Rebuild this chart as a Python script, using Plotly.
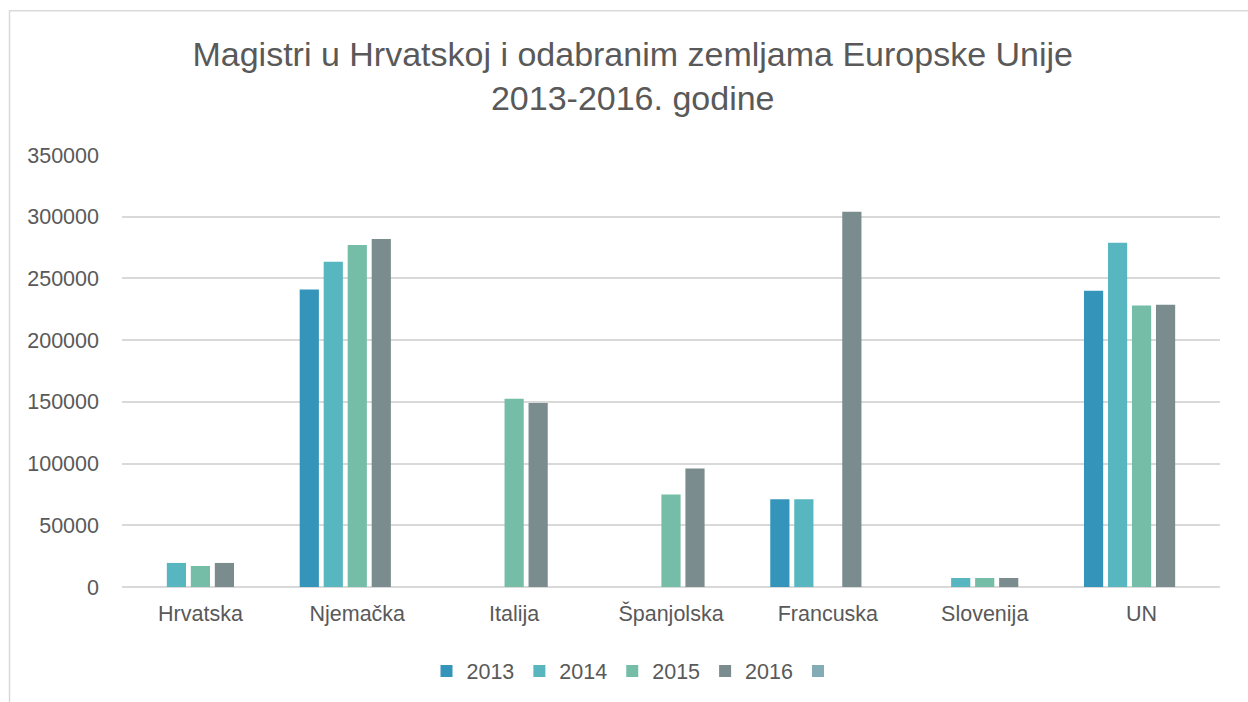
import plotly.graph_objects as go

categories = ["Hrvatska", "Njemačka", "Italija", "Španjolska", "Francuska", "Slovenija", "UN"]
v2013 = [None, 241000, None, None, 71000, None, 240000]
v2014 = [19500, 263500, None, None, 71000, 7300, 279000]
v2015 = [17000, 277000, 152500, 75000, None, 7300, 228000]
v2016 = [19500, 282000, 149000, 96000, 304000, 7300, 228700]
v_extra = [None, None, None, None, None, None, None]

series_names = ["2013", "2014", "2015", "2016", " "]
series_values = [v2013, v2014, v2015, v2016, v_extra]
colors = ["#3494BA", "#58B6C0", "#75BDA7", "#7A8C8E", "#84ACB6"]

y_ticks = [0, 50000, 100000, 150000, 200000, 250000, 300000, 350000]

FONT = "Liberation Sans, Arial, sans-serif"
TXT = "#595959"

fig = go.Figure()
for name, vals, col in zip(series_names, series_values, colors):
    fig.add_trace(go.Bar(
        x=categories, y=vals, name=name,
        marker=dict(color=col, line=dict(width=0)),
    ))

L, R, T, B = 122, 28, 155, 114
W, H = 1248, 702
pw = W - L - R
ph = H - T - B

def px_x(x):
    return (x - L) / pw

def px_y(y):
    return (H - B - y) / ph

fig.update_layout(
    width=W, height=H,
    margin=dict(l=L, r=R, t=T, b=B, pad=0),
    paper_bgcolor="white", plot_bgcolor="white",
    barmode="group", bargap=0.235, bargroupgap=0.2,
    font=dict(family=FONT, color=TXT, size=21),
    title=dict(
        text="Magistri u Hrvatskoj i odabranim zemljama Europske Unije<br>2013-2016. godine",
        font=dict(family=FONT, size=34, color=TXT),
        x=0.507, xanchor="center", xref="container",
        y=1 - 66 / H, yanchor="middle", yref="container",
    ),
    xaxis=dict(
        showgrid=False, showline=False, zeroline=False,
        tickfont=dict(size=21.5, color=TXT, family=FONT),
        ticks="", ticklabelstandoff=11,
    ),
    yaxis=dict(
        range=[0, 350000], tickvals=y_ticks, tickformat="d",
        showgrid=True, gridcolor="#d9d9d9", gridwidth=1.5,
        zeroline=True, zerolinecolor="#d9d9d9", zerolinewidth=1.5,
        showline=False, ticks="", ticklabelstandoff=22,
        tickfont=dict(size=21.5, color=TXT, family=FONT),
    ),
    legend=dict(
        orientation="h", x=px_x(638), xanchor="center",
        y=px_y(671), yanchor="middle",
        font=dict(size=21.5, color=TXT, family=FONT),
        itemwidth=30, traceorder="normal",
    ),
    shapes=[dict(
        type="rect", xref="paper", yref="paper",
        x0=px_x(9.5), x1=px_x(1270), y0=px_y(720), y1=px_y(10.5),
        line=dict(color="#d9d9d9", width=1.5), fillcolor="rgba(0,0,0,0)",
        layer="below",
    )],
)

fig.write_html("out.html")
